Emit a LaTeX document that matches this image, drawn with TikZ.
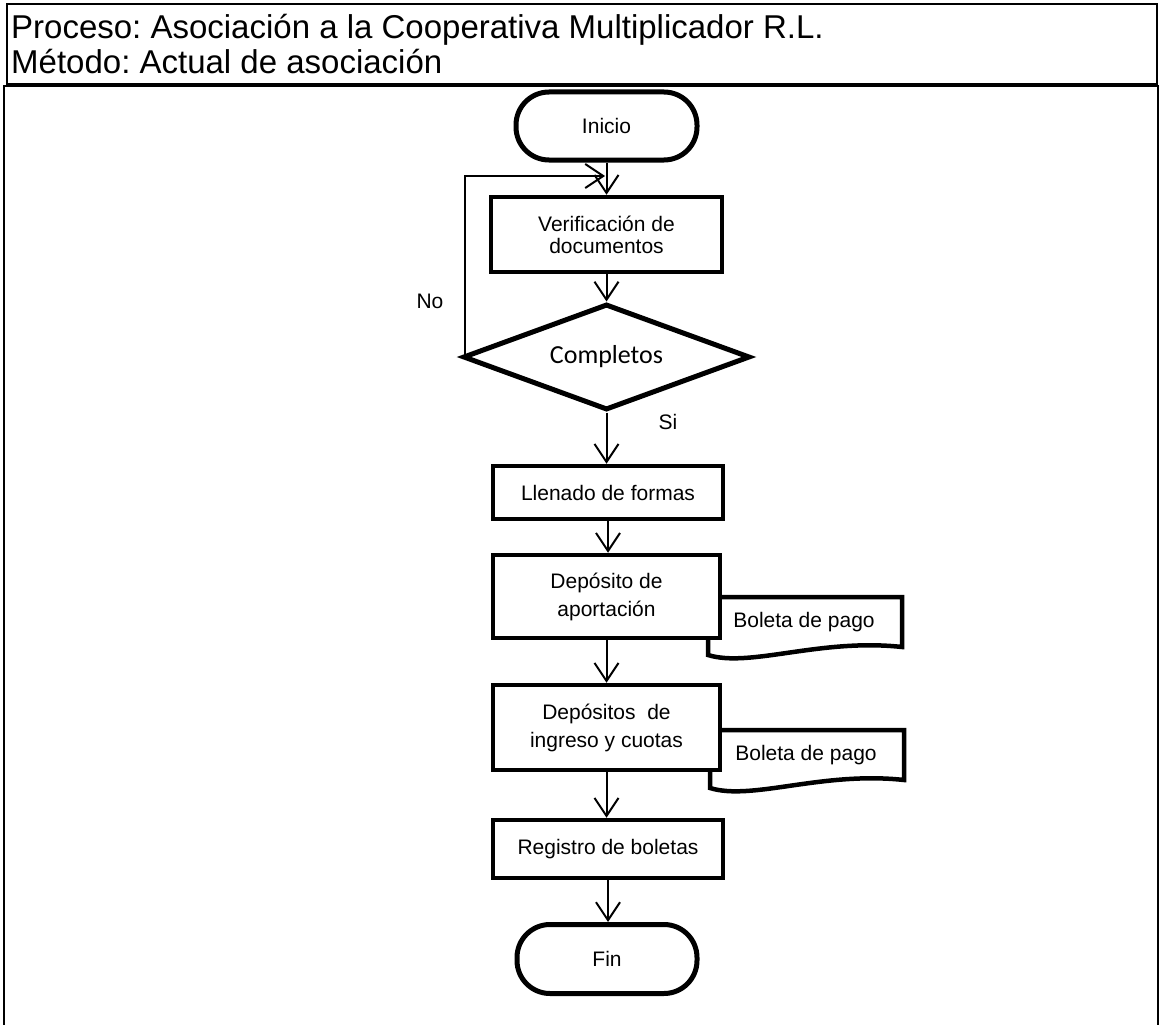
\documentclass[tikz,border=0pt]{standalone}
\usepackage{fontspec}
\setmainfont{Liberation Sans}
\newfontfamily\calibrifont{Carlito}
\usetikzlibrary{shapes.geometric,arrows.meta}
\frenchspacing
\begin{document}
\begin{tikzpicture}[x=1pt,y=-1pt,
  frame/.style={line width=2.5pt},
  headtext/.style={anchor=base west, inner sep=0pt, font=\fontsize{33}{36}\selectfont},
  procbox/.style={draw, line width=4.5pt, fill=white, inner sep=0pt, align=center, font=\fontsize{21}{28}\selectfont},
  termbox/.style={draw, line width=5pt, rounded corners=33pt, fill=white, inner sep=0pt, font=\fontsize{21}{25}\selectfont},
  decision/.style={draw, diamond, line width=5pt, fill=white, inner sep=0pt, aspect=2.7, font=\calibrifont\fontsize{26}{30}\selectfont},
  docshape/.style={draw, line width=4.5pt, fill=white, line join=miter},
  lbl/.style={inner sep=0pt, font=\fontsize{21}{25}\selectfont},
  flow/.style={line width=2pt, -{Straight Barb[length=18pt,width=24pt,line width=2pt]}},
]
\useasboundingbox (0,0) rectangle (1160,1025);

% header and frame
\draw[frame] (7,4) rectangle (1157,84);
\node[headtext] (proc) at (11,39) {Proceso: Asociación a la Cooperativa Multiplicador R.L.};
\node[headtext] (met) at (11,74) {Método: Actual de asociación};
\draw[frame] (4,1026) -- (4,86) -- (1158,86) -- (1158,1026);

% documents (drawn first, behind the boxes)
\draw[docshape] (708,597) -- (902,597) -- (902,647) .. controls (820,638) and (750,668) .. (708,655) -- cycle;
\node[lbl] (bol1) at (804,622) {Boleta de pago};
\draw[docshape] (710,730) -- (904,730) -- (904,780) .. controls (822,771) and (752,801) .. (710,788) -- cycle;
\node[lbl] (bol2) at (806,755) {Boleta de pago};

% nodes
\node[termbox, minimum width=181pt, minimum height=68pt] (inicio) at (606.5,126) {Inicio};
\node[procbox, minimum width=231pt, minimum height=75pt, font=\fontsize{21}{22}\selectfont] (verif) at (606.5,234.5) {Verificación de\\documentos};
\node[decision, minimum width=287pt, minimum height=106pt] (comp) at (606.5,357) {Completos};
\node[procbox, minimum width=230pt, minimum height=53pt] (llen) at (608,492.5) {Llenado de formas};
\node[procbox, minimum width=227pt, minimum height=83pt] (dep1) at (606.5,596.5) {Depósito de\\aportación};
\node[procbox, minimum width=227pt, minimum height=85pt] (dep2) at (606.5,727.5) {Depósitos\ \ de\\ingreso y cuotas};
\node[procbox, minimum width=230pt, minimum height=58pt] (reg) at (608,849) {Registro de boletas};
\node[termbox, minimum width=180pt, minimum height=69pt] (fin) at (607,959) {Fin};

\node[lbl] (no) at (430,301) {No};
\node[lbl] (si) at (668,422) {Si};

% connectors
\coordinate (loopin) at (605,176);
\draw[flow] ([xshift=4pt]comp.west) |- (loopin);
\draw[flow] (inicio.south) -- (verif.north);
\draw[flow] (verif.south) -- (comp.north);
\draw[flow] (comp.south) -- (comp.south |- llen.north);
\draw[flow] (llen.south) -- (llen.south |- dep1.north);
\draw[flow] (dep1.south) -- (dep1.south |- dep2.north);
\draw[flow] (dep2.south) -- (dep2.south |- reg.north);
\draw[flow] (reg.south) -- (reg.south |- fin.north);
\end{tikzpicture}
\end{document}
